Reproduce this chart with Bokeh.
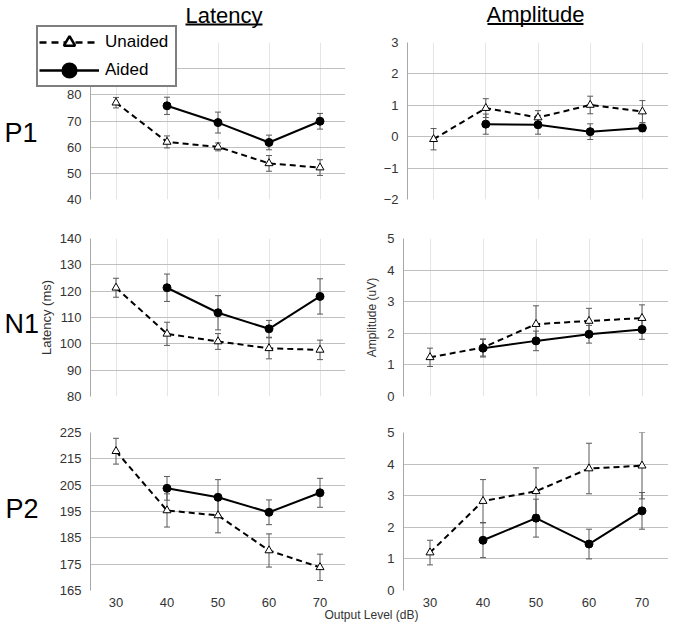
from bokeh.plotting import figure
from bokeh.layouts import column, row
from bokeh.models import (ColumnDataSource, Whisker, TeeHead, Range1d, FixedTicker,
                          Legend, LegendItem, Label, BoxAnnotation, GridBox)
from bokeh.embed import file_html
from bokeh.resources import INLINE

FONT = "Liberation Sans"
ERR = "#595959"
GRID = "#c0c0c0"
AXIS = "#a8a8a8"
TICKTXT = "#333333"
NAN = float("nan")

# ---------------- data ----------------
levels = [30, 40, 50, 60, 70]
aided_levels = [40, 50, 60, 70]
x_ticks = [30, 40, 50, 60, 70]

p1_lat_unaided = [77.0, 62.0, 60.1, 53.8, 52.2]
p1_lat_unaided_err = [2.0, 2.3, 1.5, 3.0, 3.0]
p1_lat_aided = [75.8, 69.4, 61.8, 69.9]
p1_lat_aided_err = [3.3, 4.0, 2.8, 3.0]
p1_lat_ticks = [40, 50, 60, 70, 80, 90, 100]

p1_amp_unaided = [-0.08, 0.91, 0.61, 1.01, 0.80]
p1_amp_unaided_err = [0.34, 0.30, 0.22, 0.28, 0.35]
p1_amp_aided = [0.40, 0.38, 0.16, 0.28]
p1_amp_aided_err = [0.32, 0.30, 0.25, 0.12]
p1_amp_ticks = [-2, -1, 0, 1, 2, 3]

n1_lat_unaided = [121.3, 103.8, 100.9, 98.3, 97.7]
n1_lat_unaided_err = [3.6, 4.4, 3.0, 4.0, 3.7]
n1_lat_aided = [121.3, 111.8, 105.7, 118.0]
n1_lat_aided_err = [5.2, 6.5, 3.2, 6.7]
n1_lat_ticks = [80, 90, 100, 110, 120, 130, 140]

n1_amp_unaided = [1.24, 1.55, 2.29, 2.39, 2.48]
n1_amp_unaided_err = [0.29, 0.27, 0.58, 0.40, 0.42]
n1_amp_aided = [1.53, 1.76, 1.97, 2.12]
n1_amp_aided_err = [0.28, 0.31, 0.28, 0.31]
n1_amp_ticks = [0, 1, 2, 3, 4, 5]

p2_lat_unaided = [217.9, 195.4, 193.5, 180.2, 173.8]
p2_lat_unaided_err = [4.9, 6.3, 6.6, 6.3, 5.0]
p2_lat_aided = [203.8, 200.4, 194.7, 202.1]
p2_lat_aided_err = [4.5, 6.7, 4.7, 5.5]
p2_lat_ticks = [165, 175, 185, 195, 205, 215, 225]

p2_amp_unaided = [1.20, 2.83, 3.14, 3.86, 3.95]
p2_amp_unaided_err = [0.39, 0.68, 0.74, 0.80, 1.05]
p2_amp_aided = [1.59, 2.29, 1.47, 2.52]
p2_amp_aided_err = [0.55, 0.60, 0.47, 0.58]
p2_amp_ticks = [0, 1, 2, 3, 4, 5]

col_titles = ["Latency", "Amplitude"]
row_titles = ["P1", "N1", "P2"]
series_names = ["Unaided", "Aided"]
x_title = "Output Level (dB)"
lat_title = "Latency (ms)"
amp_title = "Amplitude (uV)"

W, H = 668, 628


def make_panel(width, height, mb_left, mb_top, mb_bottom, ticks, show_x):
    p = figure(width=width, height=height, output_backend="svg", toolbar_location=None,
               x_range=Range1d(25, 75), y_range=Range1d(ticks[0], ticks[-1]),
               x_axis_location="below" if show_x else None,
               min_border_left=mb_left, min_border_right=0,
               min_border_top=mb_top, min_border_bottom=mb_bottom)
    p.outline_line_color = None
    p.background_fill_color = "white"
    p.border_fill_color = "white"
    yax = p.yaxis[0]
    yax.ticker = FixedTicker(ticks=ticks)
    yax.axis_line_color = AXIS
    yax.axis_line_width = 1
    yax.major_tick_line_color = None
    yax.minor_tick_line_color = None
    yax.major_tick_out = 0
    yax.major_tick_in = 0
    yax.major_label_standoff = 9
    yax.major_label_text_font = FONT
    yax.major_label_text_font_size = "13px"
    yax.major_label_text_color = TICKTXT
    p.ygrid.grid_line_color = GRID
    p.ygrid.grid_line_width = 1
    p.ygrid.ticker = FixedTicker(ticks=ticks)
    if show_x:
        xax = p.xaxis[0]
        xax.ticker = FixedTicker(ticks=x_ticks)
        xax.axis_line_color = None
        xax.major_tick_line_color = None
        xax.minor_tick_line_color = None
        xax.major_tick_out = 0
        xax.major_tick_in = 0
        xax.major_label_standoff = 7
        xax.major_label_text_font = FONT
        xax.major_label_text_font_size = "13px"
        xax.major_label_text_color = TICKTXT
        p.xgrid.grid_line_color = None
    return p


def draw(p, un, un_err, ai, ai_err):
    src_u = ColumnDataSource(dict(x=levels, y=un,
                                  upper=[v + e for v, e in zip(un, un_err)],
                                  lower=[v - e for v, e in zip(un, un_err)]))
    src_a = ColumnDataSource(dict(x=aided_levels, y=ai,
                                  upper=[v + e for v, e in zip(ai, ai_err)],
                                  lower=[v - e for v, e in zip(ai, ai_err)]))
    for src in (src_u, src_a):
        w = Whisker(source=src, base="x", upper="upper", lower="lower",
                    line_color=ERR, line_width=1,
                    upper_head=TeeHead(size=6, line_color=ERR, line_width=1),
                    lower_head=TeeHead(size=6, line_color=ERR, line_width=1))
        p.add_layout(w)
    p.line("x", "y", source=src_u, line_color="black", line_width=2, line_dash="6 4")
    p.line("x", "y", source=src_a, line_color="black", line_width=2)
    p.scatter("x", "y", source=src_u, marker="triangle", size=8,
              fill_color="white", line_color="black", line_width=1)
    p.scatter("x", "y", source=src_a, marker="circle", size=8,
              fill_color="black", line_color="black", line_width=1)


LW, RW = 345, 323
p1L = make_panel(LW, 214, 90, 42, 15, p1_lat_ticks, False)
p1R = make_panel(RW, 214, 62, 42, 15, p1_amp_ticks, False)
n1L = make_panel(LW, 197, 90, 24, 15, n1_lat_ticks, False)
n1R = make_panel(RW, 197, 58, 24, 15, n1_amp_ticks, False)
p2L = make_panel(LW, 217, 90, 21, 38, p2_lat_ticks, True)
p2R = make_panel(RW, 217, 58, 21, 38, p2_amp_ticks, True)

draw(p1L, p1_lat_unaided, p1_lat_unaided_err, p1_lat_aided, p1_lat_aided_err)
draw(p1R, p1_amp_unaided, p1_amp_unaided_err, p1_amp_aided, p1_amp_aided_err)
draw(n1L, n1_lat_unaided, n1_lat_unaided_err, n1_lat_aided, n1_lat_aided_err)
draw(n1R, n1_amp_unaided, n1_amp_unaided_err, n1_amp_aided, n1_amp_aided_err)
draw(p2L, p2_lat_unaided, p2_lat_unaided_err, p2_lat_aided, p2_lat_aided_err)
draw(p2R, p2_amp_unaided, p2_amp_unaided_err, p2_amp_aided, p2_amp_aided_err)

for p, t, so, fs in ((n1L, lat_title, 3, "13px"), (n1R, amp_title, 5, "12px")):
    p.yaxis[0].axis_label = t
    p.yaxis[0].axis_label_text_font = FONT
    p.yaxis[0].axis_label_text_font_size = fs
    p.yaxis[0].axis_label_text_font_style = "normal"
    p.yaxis[0].axis_label_text_color = TICKTXT
    p.yaxis[0].axis_label_standoff = so

panels = column(row(p1L, p1R), row(n1L, n1R), row(p2L, p2R))

# ---------- transparent overlay for titles, row labels, legend, x title ----------
ov = figure(width=W, height=H, output_backend="svg", toolbar_location=None,
            x_axis_location=None, y_axis_location=None, min_border=0,
            x_range=Range1d(0, 1), y_range=Range1d(0, 1))
ov.outline_line_color = None
ov.background_fill_alpha = 0
ov.border_fill_alpha = 0
ov.xgrid.grid_line_color = None
ov.ygrid.grid_line_color = None

BASE_K = 0.32  # renderer places alphabetic baseline ~0.32em lower; compensate


def txt(text, x, y, size_px, align="left", color="black"):
    yy = y - BASE_K * size_px
    ov.add_layout(Label(x=x, y=H - yy, x_units="screen", y_units="screen", text=text,
                        text_align=align, text_baseline="alphabetic",
                        text_font=FONT, text_font_size=f"{size_px}px", text_color=color))


def underline(x0, x1, y0, y1):
    ov.add_layout(BoxAnnotation(left=x0, right=x1, top=H - y0, bottom=H - y1,
                                left_units="screen", right_units="screen",
                                top_units="screen", bottom_units="screen",
                                fill_color="black", fill_alpha=1, line_color=None,
                                editable=False))


txt(col_titles[0], 223.5, 22, 22, "center")
underline(185, 262, 23, 25)
txt(col_titles[1], 535, 21.5, 22, "center")
underline(487, 583, 22.5, 24.5)

txt(row_titles[0], 4, 141, 27)
txt(row_titles[1], 4, 332, 27)
txt(row_titles[2], 5, 517.5, 27)

txt(x_title, 371, 618, 12, "center", TICKTXT)

lu = ov.line([NAN, NAN], [NAN, NAN], line_color="black", line_width=2.5, line_dash="7 5")
su = ov.scatter([NAN], [NAN], marker="triangle", fill_color="white", line_color="black", line_width=2.5)
la = ov.line([NAN, NAN], [NAN, NAN], line_color="black", line_width=2.5)
sa = ov.scatter([NAN], [NAN], marker="circle", fill_color="black", line_color="black", line_width=5)
legend = Legend(items=[LegendItem(label=series_names[0], renderers=[lu, su]),
                       LegendItem(label=series_names[1], renderers=[la, sa])],
                location=(36, H - 87), margin=0, padding=1, spacing=0,
                glyph_width=60, glyph_height=28, label_height=28, label_width=69,
                label_standoff=6,
                label_text_font=FONT, label_text_font_size="17px", label_text_color="black",
                border_line_color="black", border_line_width=2,
                background_fill_color="white", background_fill_alpha=1)
ov.add_layout(legend)

layout = GridBox(children=[(panels, 0, 0), (ov, 0, 0)])
open("out.html", "w").write(file_html(layout, INLINE))
